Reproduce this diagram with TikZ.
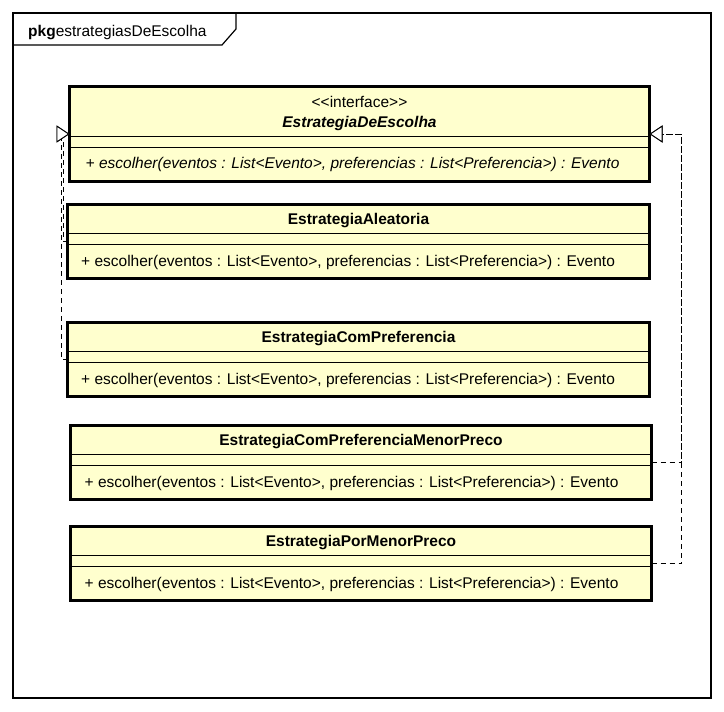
\documentclass[tikz,border=0pt]{standalone}
\usepackage{fontspec}
\setmainfont{Liberation Sans}[Ligatures=TeXOff]
\usetikzlibrary{positioning, calc, arrows.meta}
\definecolor{umlyellow}{RGB}{255,255,206}
\newcommand{\umlsize}{\fontsize{15.5pt}{18pt}\selectfont}

\begin{document}
\begin{tikzpicture}[x=1pt, y=-1pt,
		classbox/.style={draw, line width=3pt, fill=umlyellow, rectangle, inner sep=0pt, outer sep=0pt, anchor=north west, minimum height=74pt},
		divider/.style={line width=0.9pt},
		classname/.style={font=\umlsize\bfseries, anchor=base, inner sep=0pt},
		operation/.style={font=\umlsize, anchor=base west, inner sep=0pt},
		realize/.style={dash pattern=on 5pt off 4pt, line width=0.9pt, -{Triangle[width=17pt, length=13pt, fill=white, line width=0.9pt]}}]
		\useasboundingbox (0,0) rectangle (724,712);
		% package frame
		\draw[line width=1.2pt] (13,13) rectangle (711,698);
		\draw[line width=1.2pt] (13,45) -- (222,45) -- (236,29) -- (236,13);
		\node[font=\umlsize, anchor=base west, inner sep=0pt] (pkgname) at (28,37) {\textbf{pkg}estrategiasDeEscolha};
		% interface
		\node[classbox, minimum width=580pt, minimum height=95pt] (iface) at (69.5,86.5) {};
		\node[font=\umlsize, anchor=base, inner sep=0pt] (ifaceS) at ([yshift=-21pt]iface.north) {<<interface>>};
		\node[classname, font=\umlsize\bfseries\itshape] (ifaceT) at ([yshift=-40.5pt]iface.north) {EstrategiaDeEscolha};
		\draw[divider] ([yshift=-50pt]iface.north west) -- ([yshift=-50pt]iface.north east);
		\draw[divider] ([yshift=-60.5pt]iface.north west) -- ([yshift=-60.5pt]iface.north east);
		\node[operation, font=\umlsize\itshape] (ifaceO) at ([xshift=16pt, yshift=-82pt]iface.north west) {+ escolher(eventos : List<Evento>, preferencias : List<Preferencia>) : Evento};
		% EstrategiaAleatoria
		\node[classbox, minimum width=582pt] (ale) at (67.5,204.5) {};
		\node[classname] (aleT) at ([yshift=-20pt]ale.north) {EstrategiaAleatoria};
		\draw[divider] ([yshift=-29pt]ale.north west) -- ([yshift=-29pt]ale.north east);
		\draw[divider] ([yshift=-39.5pt]ale.north west) -- ([yshift=-39.5pt]ale.north east);
		\node[operation] (aleO) at ([xshift=13.5pt, yshift=-62pt]ale.north west) {+ escolher(eventos : List<Evento>, preferencias : List<Preferencia>) : Evento};
		% EstrategiaComPreferencia
		\node[classbox, minimum width=582pt] (pref) at (67.5,322.5) {};
		\node[classname] (prefT) at ([yshift=-20pt]pref.north) {EstrategiaComPreferencia};
		\draw[divider] ([yshift=-29pt]pref.north west) -- ([yshift=-29pt]pref.north east);
		\draw[divider] ([yshift=-39.5pt]pref.north west) -- ([yshift=-39.5pt]pref.north east);
		\node[operation] (prefO) at ([xshift=13.5pt, yshift=-62pt]pref.north west) {+ escolher(eventos : List<Evento>, preferencias : List<Preferencia>) : Evento};
		% EstrategiaComPreferenciaMenorPreco
		\node[classbox, minimum width=581pt] (prefmenor) at (70.5,425.5) {};
		\node[classname] (prefmenorT) at ([yshift=-20pt]prefmenor.north) {EstrategiaComPreferenciaMenorPreco};
		\draw[divider] ([yshift=-29pt]prefmenor.north west) -- ([yshift=-29pt]prefmenor.north east);
		\draw[divider] ([yshift=-39.5pt]prefmenor.north west) -- ([yshift=-39.5pt]prefmenor.north east);
		\node[operation] (prefmenorO) at ([xshift=14pt, yshift=-62pt]prefmenor.north west) {+ escolher(eventos : List<Evento>, preferencias : List<Preferencia>) : Evento};
		% EstrategiaPorMenorPreco
		\node[classbox, minimum width=581pt] (menor) at (70.5,526.5) {};
		\node[classname] (menorT) at ([yshift=-20pt]menor.north) {EstrategiaPorMenorPreco};
		\draw[divider] ([yshift=-29pt]menor.north west) -- ([yshift=-29pt]menor.north east);
		\draw[divider] ([yshift=-39.5pt]menor.north west) -- ([yshift=-39.5pt]menor.north east);
		\node[operation] (menorO) at ([xshift=14pt, yshift=-62pt]menor.north west) {+ escolher(eventos : List<Evento>, preferencias : List<Preferencia>) : Evento};
		% realizations
		\draw[realize] (ale.west) -- ++(-4,0) |- (iface.west);
		\draw[realize] (pref.west) -- ++(-6,0) |- (iface.west);
		\draw[realize] (prefmenor.east) -- ++(30,0) |- (iface.east);
		\draw[realize] (menor.east) -- ++(30,0) |- (iface.east);
	\end{tikzpicture}
\end{document}
